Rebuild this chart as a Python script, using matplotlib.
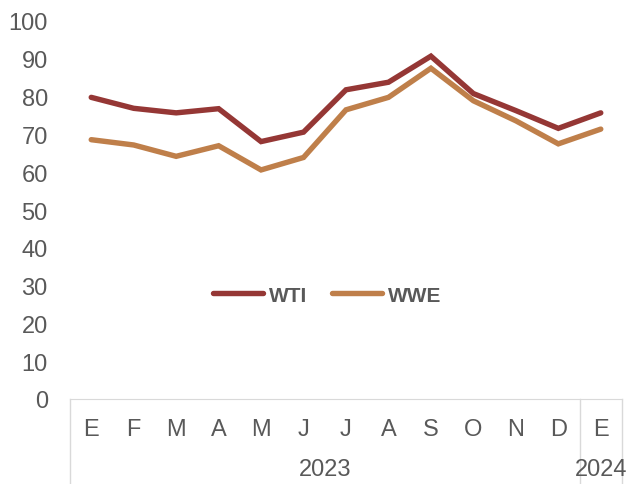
import matplotlib.pyplot as plt
import matplotlib.transforms as mtransforms

# monthly averages
months = ['E', 'F', 'M', 'A', 'M', 'J', 'J', 'A', 'S', 'O', 'N', 'D', 'E']
wti = [79.8, 76.9, 75.7, 76.8, 68.1, 70.6, 81.8, 83.8, 90.7, 80.8, 76.3, 71.6, 75.7]
wwe = [68.6, 67.2, 64.2, 67.0, 60.6, 63.9, 76.5, 79.8, 87.5, 78.9, 73.6, 67.5, 71.4]
years = ['2023', '2024']
year_spans = [(0, 11), (12, 12)]

plt.rcParams['font.family'] = ['Liberation Sans', 'DejaVu Sans']
grey = '#595959'

fig = plt.figure(figsize=(6.28, 4.85), dpi=100)
ax = fig.add_axes([70 / 628, 85 / 485, 552 / 628, 378 / 485])

x = list(range(len(months)))
ax.plot(x, wti, color='#953735', lw=3.9, solid_capstyle='round', solid_joinstyle='miter', label='WTI')
ax.plot(x, wwe, color='#BF7F4A', lw=3.9, solid_capstyle='round', solid_joinstyle='miter', label='WWE')

ax.set_xlim(-0.5, len(months) - 0.5)
ax.set_ylim(0, 100)
ax.set_yticks(range(0, 101, 10))
ax.tick_params(axis='y', length=0, pad=16, labelsize=17, labelcolor=grey)
ax.set_xticks(x)
ax.set_xticklabels(months)
ax.tick_params(axis='x', length=0, pad=14, labelsize=17, labelcolor=grey)

for s in ['top', 'right', 'left']:
    ax.spines[s].set_visible(False)
ax.spines['bottom'].set_color('#D9D9D9')

# grouped category axis: separators and year labels
trans = mtransforms.blended_transform_factory(ax.transData, ax.transAxes)
for bx in [-0.5, 11.5, 12.5]:
    ax.plot([bx, bx], [0, -0.23], color='#D9D9D9', lw=1, transform=trans, clip_on=False)
for yr, (a, b) in zip(years, year_spans):
    ax.text((a + b) / 2, -0.185, yr, transform=trans, ha='center', va='center',
            fontsize=17, color=grey)

leg = ax.legend(loc='center', bbox_to_anchor=(0.466, 0.275), ncol=2, frameon=False,
                handlelength=2.4, handletextpad=0.3, columnspacing=1.2,
                prop={'size': 15, 'weight': 'bold'})
for t in leg.get_texts():
    t.set_color(grey)

fig.savefig('out.png', dpi=100)
